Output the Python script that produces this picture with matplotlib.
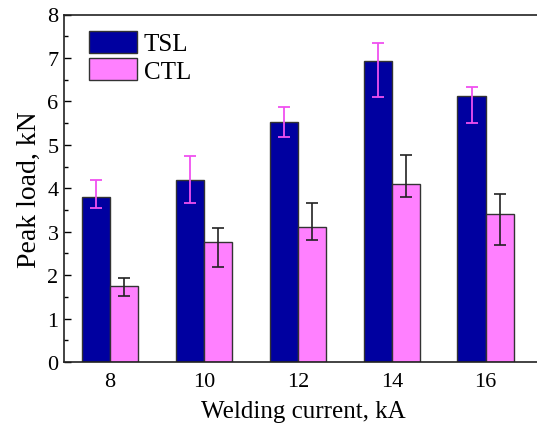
import matplotlib
matplotlib.use("Agg")
import matplotlib.pyplot as plt
import numpy as np
from matplotlib.ticker import MultipleLocator

categories = ["8", "10", "12", "14", "16"]
tsl = [3.80, 4.20, 5.53, 6.93, 6.13]
tsl_err_low = [0.25, 0.54, 0.34, 0.82, 0.63]
tsl_err_high = [0.38, 0.55, 0.35, 0.42, 0.19]
ctl = [1.74, 2.76, 3.11, 4.09, 3.41]
ctl_err_low = [0.23, 0.57, 0.29, 0.28, 0.71]
ctl_err_high = [0.19, 0.33, 0.54, 0.68, 0.46]

plt.rcParams['font.family'] = ['Liberation Serif', 'DejaVu Serif']

fig = plt.figure(figsize=(5.37, 4.27), dpi=100)
ax_left, ax_right, ax_top, ax_bot = 64, 542, 15.5, 363
ax = fig.add_axes([ax_left/537, 1-ax_bot/427, (ax_right-ax_left)/537, (ax_bot-ax_top)/427])

x = np.arange(len(categories))
w = 0.30
ax.bar(x - w/2, tsl, w, color='#0000A0', edgecolor='#333333', linewidth=1.0,
       yerr=[tsl_err_low, tsl_err_high], error_kw=dict(ecolor='#F050F0', elinewidth=1.3, capsize=4, capthick=1.3),
       label='TSL', zorder=2)
ax.bar(x + w/2, ctl, w, color='#FF80FF', edgecolor='#333333', linewidth=1.0,
       yerr=[ctl_err_low, ctl_err_high], error_kw=dict(ecolor='#222222', elinewidth=1.2, capsize=4, capthick=1.2),
       label='CTL', zorder=2)

ax.set_xlim(-0.49, 4.6)
ax.set_ylim(0, 8)
ax.set_xticks(x)
ax.set_xticklabels(categories)
ax.yaxis.set_major_locator(MultipleLocator(1))
ax.yaxis.set_minor_locator(MultipleLocator(0.5))
ax.tick_params(axis='y', which='major', direction='in', length=5, width=1, labelsize=16, pad=4)
ax.tick_params(axis='y', which='minor', direction='in', length=3, width=1)
ax.tick_params(axis='x', which='major', length=0, labelsize=16, pad=7)
ax.spines['right'].set_visible(False)
for s in ['left', 'top', 'bottom']:
    ax.spines[s].set_linewidth(1.2)
    ax.spines[s].set_color('#222222')

ax.set_xlabel('Welding current, kA', fontsize=18, labelpad=7)
ax.set_ylabel('Peak load, kN', fontsize=20, labelpad=4)

axw = ax_right - ax_left
axh = ax_bot - ax_top
leg = ax.legend(loc='upper left', bbox_to_anchor=((89-ax_left)/axw, (ax_bot-32)/axh),
                frameon=False, fontsize=18, borderpad=0,
                handlelength=1.9, handleheight=0.95, labelspacing=0.12, handletextpad=0.3,
                borderaxespad=0)

fig.savefig('out.png', dpi=100)
